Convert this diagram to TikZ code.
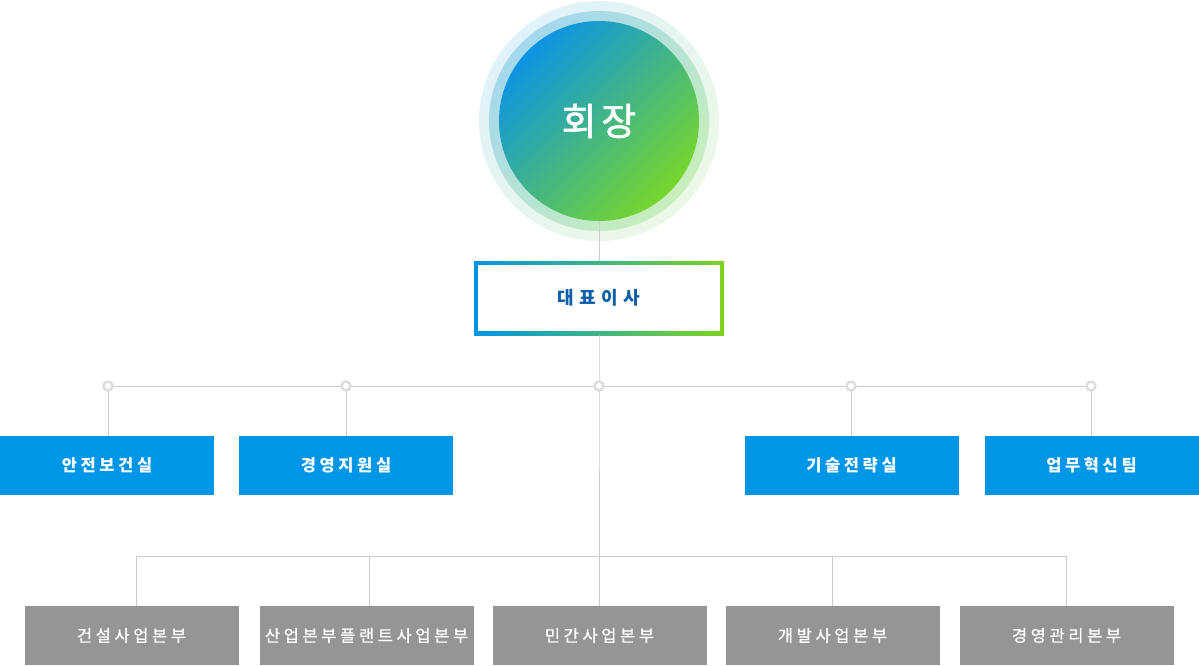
\documentclass[tikz,border=0pt]{standalone}
\usepackage{fontspec}
\setmainfont{Noto Sans CJK KR}
\definecolor{cblue}{HTML}{0096E6}
\definecolor{cgreen}{HTML}{7ED321}
\definecolor{ringAa}{HTML}{E0F2FA}
\definecolor{ringAb}{HTML}{ECF8E6}
\definecolor{ringBa}{HTML}{A4D8EE}
\definecolor{ringBb}{HTML}{C8EEBC}
\definecolor{innerA}{HTML}{0C94E4}
\definecolor{innerB}{HTML}{76D62C}
\definecolor{boxblue}{HTML}{0096E8}
\definecolor{boxgrey}{HTML}{959595}
\definecolor{linegrey}{HTML}{CCCCCC}
\definecolor{dotgrey}{HTML}{DDDDDD}
\definecolor{reptext}{HTML}{0B5EA8}
\begin{document}
\begin{tikzpicture}[x=1pt,y=-1pt,
  conn/.style={draw=linegrey, line width=1pt},
  dot/.style={circle, draw=dotgrey, line width=2.5pt, fill=white, inner sep=0pt, minimum size=9pt},
  unitbox/.style={rectangle, minimum width=214pt, minimum height=59pt, inner sep=0pt, text=white},
  bluebox/.style={unitbox, fill=boxblue, font=\fontsize{16.5}{16.5}\selectfont\bfseries\addfontfeatures{LetterSpace=22}},
  greybox/.style={unitbox, fill=boxgrey, font=\fontsize{16.5}{16.5}\selectfont\addfontfeatures{LetterSpace=22,FakeBold=0.8}},
]
\useasboundingbox (0,0) rectangle (1199,665);
% chairman rings
\shade[top color=ringAa, bottom color=ringAb, shading angle=45] (599,121) circle[radius=120pt];
\shade[top color=ringBa, bottom color=ringBb, shading angle=45] (599,121) circle[radius=110pt];
\node[circle, minimum size=200pt, inner sep=0pt, top color=innerA, bottom color=innerB, shading angle=45,
      text=white, font=\fontsize{38}{38}\selectfont\addfontfeatures{LetterSpace=12,FakeBold=1.5}] (ceo) at (599,121) {회장};
% representative box
\node[rectangle, minimum width=250pt, minimum height=74pt, inner sep=0pt, text=reptext,
      font=\fontsize{18}{18}\selectfont\bfseries\addfontfeatures{LetterSpace=30},
      path picture={
        \shade[left color=cblue, right color=cgreen] (path picture bounding box.south west) rectangle (path picture bounding box.north east);
        \fill[white] ([xshift=4pt,yshift=4pt]path picture bounding box.south west) rectangle ([xshift=-4pt,yshift=-4pt]path picture bounding box.north east);
      }] (rep) at (599,298) {대표이사};
% staff boxes
\node[bluebox] (b1) at (107,465.5) {안전보건실};
\node[bluebox] (b2) at (346,465.5) {경영지원실};
\node[bluebox] (b3) at (851.5,465.5) {기술전략실};
\node[bluebox] (b4) at (1091.5,465.5) {업무혁신팀};
% divisions
\node[greybox] (g1) at (131.5,635.5) {건설사업본부};
\node[greybox] (g2) at (366.5,635.5) {산업본부플랜트사업본부};
\node[greybox] (g3) at (599.5,635.5) {민간사업본부};
\node[greybox] (g4) at (832.5,635.5) {개발사업본부};
\node[greybox] (g5) at (1066.5,635.5) {경영관리본부};
% bus coordinates
\coordinate (j1) at (108,386);
\coordinate (j2) at (346,386);
\coordinate (j3) at (599,386);
\coordinate (j4) at (851,386);
\coordinate (j5) at (1091,386);
\coordinate (k1) at (136,556);
\coordinate (k2) at (369,556);
\coordinate (k3) at (599,556);
\coordinate (k4) at (832,556);
\coordinate (k5) at (1066,556);
% connectors
\draw[conn] (ceo.south) -- (rep.north);
\draw[conn] (rep.south) -- (j3) -- (k3);
\draw[conn] (j1) -- (j5);
\draw[conn] (k1) -- (k5);
\draw[conn] (j1) -- (j1 |- b1.north);
\draw[conn] (j2) -- (j2 |- b2.north);
\draw[conn] (j4) -- (j4 |- b3.north);
\draw[conn] (j5) -- (j5 |- b4.north);
\draw[conn] (k1) -- (k1 |- g1.north);
\draw[conn] (k2) -- (k2 |- g2.north);
\draw[conn] (k3) -- (k3 |- g3.north);
\draw[conn] (k4) -- (k4 |- g4.north);
\draw[conn] (k5) -- (k5 |- g5.north);
% junction dots
\node[dot] (d1) at (j1) {};
\node[dot] (d2) at (j2) {};
\node[dot] (d3) at (j3) {};
\node[dot] (d4) at (j4) {};
\node[dot] (d5) at (j5) {};
\end{tikzpicture}
\end{document}
